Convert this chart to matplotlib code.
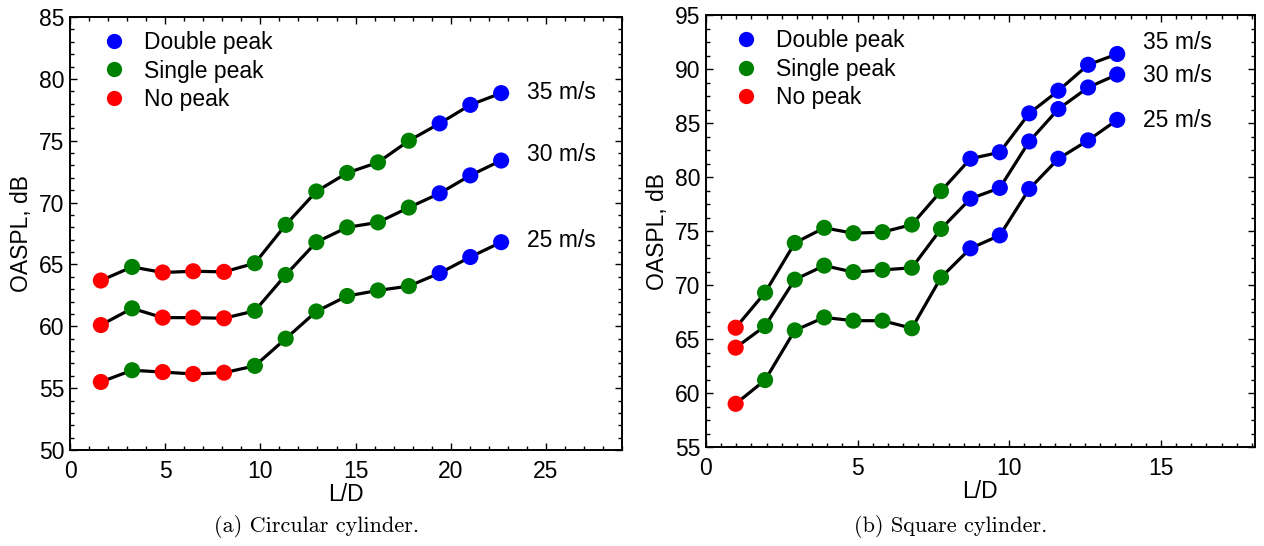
import matplotlib
matplotlib.use('Agg')
import matplotlib.pyplot as plt
from matplotlib.lines import Line2D
from matplotlib.ticker import MultipleLocator

plt.rcParams['font.family'] = ['Liberation Sans', 'DejaVu Sans']

# circular cylinder
circ_ld = [1.62, 3.26, 4.87, 6.47, 8.09, 9.71, 11.33, 12.94, 14.56, 16.18, 17.8, 19.42, 21.03, 22.65]
circ_35 = [63.7, 64.8, 64.35, 64.45, 64.4, 65.1, 68.2, 70.9, 72.4, 73.25, 75.0, 76.4, 77.9, 78.85]
circ_30 = [60.1, 61.45, 60.7, 60.7, 60.65, 61.25, 64.15, 66.8, 68.0, 68.4, 69.6, 70.75, 72.2, 73.4]
circ_25 = [55.5, 56.45, 56.3, 56.15, 56.25, 56.8, 59.0, 61.2, 62.45, 62.9, 63.25, 64.3, 65.6, 66.8]
circ_peak = ['N', 'S', 'N', 'N', 'N', 'S', 'S', 'S', 'S', 'S', 'S', 'D', 'D', 'D']

# square cylinder
sq_ld = [0.98, 1.95, 2.93, 3.9, 4.86, 5.82, 6.79, 7.75, 8.72, 9.69, 10.66, 11.62, 12.6, 13.56]
sq_35 = [66.05, 69.3, 73.9, 75.3, 74.8, 74.9, 75.6, 78.7, 81.7, 82.3, 85.9, 88.0, 90.4, 91.4]
sq_30 = [64.2, 66.2, 70.5, 71.8, 71.2, 71.4, 71.6, 75.2, 78.0, 79.0, 83.3, 86.3, 88.3, 89.5]
sq_25 = [59.0, 61.2, 65.8, 67.0, 66.7, 66.7, 66.0, 70.7, 73.4, 74.6, 78.9, 81.7, 83.4, 85.3]
sq_peak = ['N', 'S', 'S', 'S', 'S', 'S', 'S', 'S', 'D', 'D', 'D', 'D', 'D', 'D']

speeds = ['35 m/s', '30 m/s', '25 m/s']
peak_names = {'D': 'Double peak', 'S': 'Single peak', 'N': 'No peak'}
peak_colors = {'D': '#0000ff', 'S': '#008000', 'N': '#ff0000'}

FS = 16.5

fig = plt.figure(figsize=(12.64, 5.46), dpi=100)
ax1 = fig.add_axes([0.0554, 0.1758, 0.4367, 0.793])
ax2 = fig.add_axes([0.5585, 0.1813, 0.4343, 0.791])


def draw(ax, x, series, peak, label_x, label_y, leg_x):
    cols = [peak_colors[p] for p in peak]
    for y, name, ly in zip(series, speeds, label_y):
        ax.plot(x, y, color='k', lw=2.3, zorder=2)
        ax.scatter(x, y, c=cols, s=135, edgecolors='none', zorder=3)
        ax.text(label_x, ly, name, va='center', ha='left', fontsize=FS)
    handles = [Line2D([], [], ls='none', marker='o', ms=11, mec='none',
                      color=peak_colors[k]) for k in ['D', 'S', 'N']]
    ax.legend(handles, [peak_names[k] for k in ['D', 'S', 'N']],
              loc='upper left', bbox_to_anchor=(leg_x, 1.0), frameon=False,
              fontsize=FS, handlelength=1.0, handletextpad=0.8,
              labelspacing=0.23, borderpad=0.0, borderaxespad=0.62)
    ax.set_xlabel('L/D', fontsize=FS, labelpad=0)
    ax.set_ylabel('OASPL, dB', fontsize=FS, labelpad=4)
    ax.tick_params(which='both', direction='in', top=True, right=True,
                   labelsize=FS, width=1.0)
    ax.tick_params(which='major', length=5)
    ax.tick_params(axis='x', which='major', pad=7)
    ax.tick_params(axis='y', which='major', pad=4)
    ax.tick_params(which='minor', length=3)
    for s in ax.spines.values():
        s.set_linewidth(1.4)


draw(ax1, circ_ld, [circ_35, circ_30, circ_25], circ_peak, 24.0, [78.9, 73.9, 66.9], 0.034)
ax1.set_xlim(0, 29)
ax1.set_ylim(50, 85)
ax1.xaxis.set_major_locator(MultipleLocator(5))
ax1.xaxis.set_minor_locator(MultipleLocator(1))
ax1.yaxis.set_major_locator(MultipleLocator(5))
ax1.yaxis.set_minor_locator(MultipleLocator(1))

draw(ax2, sq_ld, [sq_35, sq_30, sq_25], sq_peak, 14.4, [92.45, 89.45, 85.25], 0.026)
ax2.set_xlim(0, 18.1)
ax2.set_ylim(55, 95)
ax2.xaxis.set_major_locator(MultipleLocator(5))
ax2.xaxis.set_minor_locator(MultipleLocator(0.5))
ax2.yaxis.set_major_locator(MultipleLocator(5))
ax2.yaxis.set_minor_locator(MultipleLocator(1.25))

fig.text(0.2508, 0.035, '(a) Circular cylinder.', ha='center', va='center',
         fontsize=16, family=['cmr10', 'DejaVu Serif'])
fig.text(0.752, 0.035, '(b) Square cylinder.', ha='center', va='center',
         fontsize=16, family=['cmr10', 'DejaVu Serif'])

fig.savefig('out.png', dpi=100)
